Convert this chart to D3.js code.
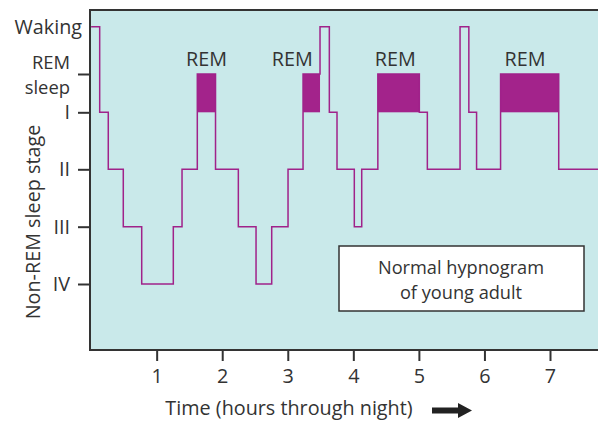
<!DOCTYPE html>
<html>
<head>
<meta charset="utf-8">
<script src="https://cdn.jsdelivr.net/npm/d3@7"></script>
<style>
  html, body { margin: 0; padding: 0; background: #ffffff; }
  svg { display: block; }
  text { font-family: "Open Sans", "Noto Sans", sans-serif; fill: #333333; }
</style>
</head>
<body>
<svg id="chart" width="598" height="421"></svg>
<script>
// ---- Data ----
// Sleep stages, top to bottom
const stages = ["Waking", "REM", "I", "II", "III", "IV"];
// Segment start times (hours through night)
const segStart = [0, 0.131, 0.262, 0.491, 0.772, 1.254, 1.387, 1.62, 1.898, 2.246, 2.516, 2.755, 3.004,
                  3.233, 3.492, 3.634, 3.751, 4.015, 4.128, 4.374, 5.007, 5.129, 5.628, 5.762, 5.88, 6.246, 7.133];
// Stage during each segment
const segStage = ["Waking", "I", "II", "III", "IV", "III", "II", "REM", "II", "III", "IV", "III", "II",
                  "REM", "Waking", "I", "II", "III", "II", "REM", "I", "II", "Waking", "I", "II", "REM", "II"];
const endTime = 7.74;
// REM label positions (hours)
const remLabelTimes = [1.76, 3.07, 4.64, 6.62];
// Axis tick labels
const xTicks = [1, 2, 3, 4, 5, 6, 7];
const yTickStages = ["REM", "I", "II", "III", "IV"];
const yTickLabels = { "I": "I", "II": "II", "III": "III", "IV": "IV" };
const remSleepLabel = ["REM", "sleep"];
const boxLabel = ["Normal hypnogram", "of young adult"];

// ---- Layout ----
const W = 598, H = 421;
const plotLeft = 90, plotRight = 598, plotTop = 10, plotBottom = 350;
const lineColor = "#a0228a", fillColor = "#a3238b", bg = "#c9e9ea", axisColor = "#333333";
const fs = 19.8;
const fs2 = 17.8; // two-line labels

const svg = d3.select("#chart");

const x = d3.scaleLinear().domain([0, 7]).range([91.1, 550]);
const yIdx = d3.scaleLinear().domain([0, 1, 2, 3, 4, 5]).range([26.8, 74, 112.3, 169.3, 226.7, 284]);
const y = s => yIdx(stages.indexOf(s));

// background
svg.append("rect").attr("x", plotLeft).attr("y", plotTop)
  .attr("width", plotRight - plotLeft).attr("height", plotBottom - plotTop).attr("fill", bg);

// REM blocks (between REM level and stage I level)
const segs = segStart.map((t, i) => ({ t0: t, t1: i < segStart.length - 1 ? segStart[i + 1] : endTime, s: segStage[i] }));
svg.append("g").selectAll("rect").data(segs.filter(d => d.s === "REM")).join("rect")
  .attr("x", d => x(d.t0)).attr("width", d => x(d.t1) - x(d.t0))
  .attr("y", y("REM")).attr("height", y("I") - y("REM"))
  .attr("fill", fillColor);

// step line
const pts = [];
segs.forEach(d => { pts.push([d.t0, d.s]); pts.push([d.t1, d.s]); });
const line = d3.line().x(d => x(d[0])).y(d => y(d[1]));
svg.append("path").datum(pts).attr("d", line)
  .attr("fill", "none").attr("stroke", lineColor).attr("stroke-width", 1.5).attr("stroke-linejoin", "miter");

// REM labels
svg.append("g").selectAll("text").data(remLabelTimes).join("text")
  .attr("x", d => x(d)).attr("y", 66).attr("text-anchor", "middle")
  .attr("font-size", fs).text("REM");

// Axes frame
svg.append("line").attr("x1", plotLeft).attr("x2", plotLeft).attr("y1", plotTop - 1).attr("y2", plotBottom + 1)
  .attr("stroke", axisColor).attr("stroke-width", 2);
svg.append("line").attr("x1", plotLeft).attr("x2", plotRight).attr("y1", plotTop).attr("y2", plotTop)
  .attr("stroke", axisColor).attr("stroke-width", 2);

// x axis
const xAxis = d3.axisBottom(x).tickValues(xTicks).tickSize(11).tickPadding(8).tickFormat(d3.format("d"));
const gx = svg.append("g").attr("transform", `translate(0,${plotBottom})`).call(xAxis);
gx.select(".domain").remove();
gx.append("line").attr("x1", plotLeft).attr("x2", plotRight).attr("y1", 0).attr("y2", 0)
  .attr("stroke", axisColor).attr("stroke-width", 2);
gx.selectAll(".tick line").attr("stroke", axisColor).attr("stroke-width", 2);
gx.selectAll(".tick text").attr("font-size", fs).attr("fill", "#333")
  .attr("font-family", '"Open Sans", sans-serif');

// y axis
const yAxisScale = d3.scaleOrdinal().domain(stages).range(stages.map(s => y(s)));
const yAxis = d3.axisLeft(yAxisScale).tickValues(yTickStages).tickSize(12).tickPadding(8)
  .tickFormat(d => yTickLabels[d] || "");
const gy = svg.append("g").attr("transform", `translate(${plotLeft},0)`).call(yAxis);
gy.select(".domain").remove();
gy.selectAll(".tick line").attr("stroke", axisColor).attr("stroke-width", 2);
gy.selectAll(".tick text").filter(d => !yTickLabels[d]).remove();
gy.selectAll(".tick text").attr("font-size", fs).attr("fill", "#333")
  .attr("font-family", '"Open Sans", sans-serif');

// Waking and REM sleep labels
svg.append("text").attr("x", 82).attr("y", y("Waking")).attr("dy", "0.35em")
  .attr("text-anchor", "end").attr("font-size", fs).text("Waking");
const rs = svg.append("text").attr("text-anchor", "end").attr("font-size", fs2 + 0.6);
rs.selectAll("tspan").data(remSleepLabel).join("tspan")
  .attr("x", 70).attr("y", (d, i) => 69 + i * 25).text(d => d);

// axis titles
svg.append("text").attr("transform", "translate(40,222) rotate(-90)").attr("text-anchor", "middle")
  .attr("font-size", fs).text("Non-REM sleep stage");
svg.append("text").attr("x", 289).attr("y", 415).attr("text-anchor", "middle")
  .attr("font-size", fs).text("Time (hours through night)");

// arrow
svg.append("path")
  .attr("d", "M432,407.5 L458,407.5 L458,403 L472,410.5 L458,418 L458,413.5 L432,413.5 Z")
  .attr("fill", "#222");

// annotation box
svg.append("rect").attr("x", 339).attr("y", 246).attr("width", 245).attr("height", 65)
  .attr("fill", "#ffffff").attr("stroke", axisColor).attr("stroke-width", 1.5);
const bt = svg.append("text").attr("text-anchor", "middle").attr("font-size", fs2 + 0.4);
bt.selectAll("tspan").data(boxLabel).join("tspan")
  .attr("x", 461).attr("y", (d, i) => 273.5 + i * 25).text(d => d);
</script>
</body>
</html>
